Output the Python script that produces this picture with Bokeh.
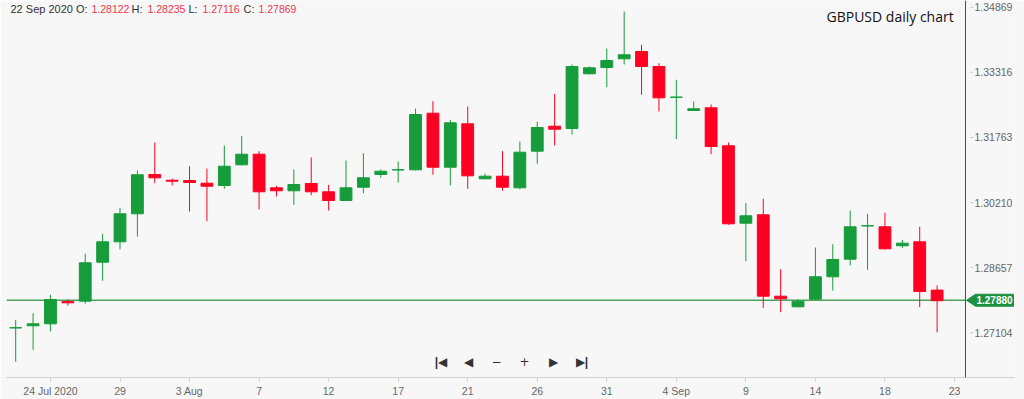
from bokeh.plotting import figure
from bokeh.models import ColumnDataSource, FixedTicker, Span, Label, Range1d
from bokeh.core.properties import value
from bokeh.embed import file_html
from bokeh.resources import INLINE

# ---------------- data ----------------
dates = ["2020-07-22", "2020-07-23", "2020-07-24", "2020-07-26", "2020-07-27", "2020-07-28",
         "2020-07-29", "2020-07-30", "2020-07-31", "2020-08-02", "2020-08-03", "2020-08-04",
         "2020-08-05", "2020-08-06", "2020-08-07", "2020-08-09", "2020-08-10", "2020-08-11",
         "2020-08-12", "2020-08-13", "2020-08-14", "2020-08-16", "2020-08-17", "2020-08-18",
         "2020-08-19", "2020-08-20", "2020-08-21", "2020-08-23", "2020-08-24", "2020-08-25",
         "2020-08-26", "2020-08-27", "2020-08-28", "2020-08-30", "2020-08-31", "2020-09-01",
         "2020-09-02", "2020-09-03", "2020-09-04", "2020-09-06", "2020-09-07", "2020-09-08",
         "2020-09-09", "2020-09-10", "2020-09-11", "2020-09-13", "2020-09-14", "2020-09-15",
         "2020-09-16", "2020-09-17", "2020-09-18", "2020-09-20", "2020-09-21", "2020-09-22"]

opens = [1.27220, 1.27271, 1.27319, 1.27851, 1.27858, 1.28788, 1.29274, 1.29942, 1.30879, 1.30743,
         1.30736, 1.30672, 1.30617, 1.31111, 1.31363, 1.30562, 1.30491, 1.30665, 1.30467, 1.30259,
         1.30576, 1.30879, 1.30988, 1.30991, 1.32341, 1.31053, 1.32088, 1.30777, 1.30839, 1.30562,
         1.31435, 1.32031, 1.31976, 1.33281, 1.33431, 1.33639, 1.33813, 1.33455, 1.32720, 1.32406,
         1.32470, 1.31564, 1.29718, 1.29918, 1.27977, 1.27724, 1.27905, 1.28440, 1.28859, 1.29652,
         1.29632, 1.29179, 1.29274, 1.28122]
highs = [1.27414, 1.27571, 1.28010, 1.27898, 1.28988, 1.29465, 1.30085, 1.30975, 1.31642, 1.30784,
         1.31077, 1.31022, 1.31571, 1.31802, 1.31435, 1.30610, 1.30999, 1.31285, 1.30634, 1.31213,
         1.31387, 1.30999, 1.31189, 1.32453, 1.32627, 1.32184, 1.32501, 1.30896, 1.31435, 1.31666,
         1.32136, 1.32804, 1.33503, 1.33455, 1.33884, 1.34767, 1.33973, 1.33534, 1.33138, 1.32620,
         1.32549, 1.31642, 1.30195, 1.30300, 1.28621, 1.27905, 1.29138, 1.29217, 1.30021, 1.29942,
         1.29966, 1.29322, 1.29632, 1.28235]
lows = [1.26412, 1.26699, 1.27135, 1.27755, 1.27796, 1.28344, 1.29098, 1.29401, 1.30672, 1.30617,
        1.29997, 1.29765, 1.30538, 1.31094, 1.30045, 1.30355, 1.30157, 1.30386, 1.30021, 1.30250,
        1.30433, 1.30801, 1.30689, 1.30975, 1.30872, 1.30617, 1.30538, 1.30767, 1.30491, 1.30529,
        1.31135, 1.31571, 1.31833, 1.33264, 1.32961, 1.33503, 1.32780, 1.32382, 1.31721, 1.32400,
        1.31363, 1.29680, 1.28811, 1.27700, 1.27595, 1.27707, 1.27874, 1.28113, 1.28709, 1.28607,
        1.29091, 1.29122, 1.27715, 1.27116]
closes = [1.27226, 1.27319, 1.27898, 1.27819, 1.28773, 1.29274, 1.29942, 1.30872, 1.30801, 1.30720,
          1.30689, 1.30600, 1.31077, 1.31363, 1.30467, 1.30491, 1.30641, 1.30467, 1.30259, 1.30562,
          1.30801, 1.30958, 1.30994, 1.32310, 1.31053, 1.32112, 1.30848, 1.30839, 1.30576, 1.31411,
          1.32000, 1.31960, 1.33455, 1.33424, 1.33598, 1.33734, 1.33455, 1.32708, 1.32726, 1.32446,
          1.31547, 1.29704, 1.29894, 1.27977, 1.27915, 1.27858, 1.28440, 1.28852, 1.29632, 1.29658,
          1.29107, 1.29241, 1.28089, 1.27869]

tick_dates = ["2020-07-24", "2020-07-29", "2020-08-03", "2020-08-07", "2020-08-12", "2020-08-17",
              "2020-08-21", "2020-08-26", "2020-08-31", "2020-09-04", "2020-09-09", "2020-09-14",
              "2020-09-18", "2020-09-23"]
tick_labels = ["24 Jul 2020", "29", "3 Aug", "7", "12", "17", "21", "26", "31", "4 Sep", "9", "14",
               "18", "23"]
price_ticks = [1.27104, 1.28657, 1.30210, 1.31763, 1.33316, 1.34869]
last_price = 1.27880
header_date = "22 Sep 2020"
chart_title = "GBPUSD daily chart"

# ---------------- layout / styling ----------------
W, H = 1024, 399
BORDER_L, BORDER_R, BORDER_B = 6, 10, 22
FRAME_W, FRAME_H = W - BORDER_L - BORDER_R, H - BORDER_B
X0, X1 = -0.529, 57.452          # visible slot range
Y0, Y1 = 1.26038, 1.35029        # visible price range
AXIS_X = 54.633                  # where the price scale starts
dx = (X1 - X0) / FRAME_W          # data units per pixel
dy = (Y1 - Y0) / FRAME_H

BG = "#f7f7f7"
GREEN = "#169c3a"
RED = "#ff0022"
TAG = "#1e9140"
AXFONT = "Liberation Sans"

x = list(range(len(dates)))
up = [c >= o for o, c in zip(opens, closes)]
src = ColumnDataSource(dict(
    x=x,
    high=highs, low=lows,
    top=[max(o, c) for o, c in zip(opens, closes)],
    bottom=[min(o, c) for o, c in zip(opens, closes)],
    color=[GREEN if u else RED for u in up],
))

p = figure(width=W, height=H,
           x_range=Range1d(X0, X1), y_range=Range1d(Y0, Y1),
           y_axis_location=None, output_backend="svg", toolbar_location=None,
           min_border_left=BORDER_L, min_border_top=0, min_border_right=BORDER_R,
           min_border_bottom=BORDER_B,
           background_fill_color=BG, border_fill_color=BG, outline_line_color=None)
p.grid.visible = False

# last-price line (up to the price scale)
p.segment(x0=[X0], x1=[AXIS_X], y0=[last_price], y1=[last_price],
          line_color="#4fa35f", line_width=1.5)

# candles
p.segment(x0="x", x1="x", y0="high", y1="low", line_color="color", line_width=1, source=src)
p.vbar(x="x", width=0.68, top="top", bottom="bottom", fill_color="color",
       line_color="color", line_width=1, source=src)

# price scale drawn at the right
p.add_layout(Span(location=AXIS_X, dimension="height", line_color="#4d4d4d", line_width=1))
n = len(price_ticks)
p.segment(x0=[AXIS_X + 5 * dx] * n, x1=[AXIS_X + 8 * dx] * n, y0=price_ticks, y1=price_ticks,
          line_color="#c8c8c8", line_width=1)
p.text(x=[AXIS_X + 9 * dx] * n, y=price_ticks, text=[f"{v:.5f}" for v in price_ticks],
       text_color="#666666", text_font=value(AXFONT), text_font_size="10.5px",
       text_align="left", text_baseline="middle")

# last-price tag
p.patch(x=[AXIS_X + 1 * dx, AXIS_X + 10 * dx, AXIS_X + 48 * dx, AXIS_X + 48 * dx, AXIS_X + 10 * dx],
        y=[last_price, last_price + 6 * dy, last_price + 6 * dy, last_price - 6 * dy, last_price - 6 * dy],
        fill_color=TAG, line_color=TAG)
p.text(x=[AXIS_X + 29 * dx], y=[last_price], text=[f"{last_price:.5f}"],
       text_color="white", text_font=value(AXFONT), text_font_size="10px",
       text_font_style="bold", text_align="center", text_baseline="middle")

# x axis
positions = [dates.index(d) if d in dates else len(dates) for d in tick_dates]
xa = p.xaxis[0]
xa.ticker = FixedTicker(ticks=positions)
xa.major_label_overrides = {pos: lab for pos, lab in zip(positions, tick_labels)}
xa.axis_line_color = "#cfcfcf"
xa.major_tick_line_color = "#cfcfcf"
xa.major_tick_out = 4
xa.major_tick_in = 0
xa.minor_tick_line_color = None
xa.major_label_text_color = "#666666"
xa.major_label_text_font = AXFONT
xa.major_label_text_font_size = "10.5px"
xa.major_label_standoff = 3

# header (OHLC of last bar); screen units: x from frame left, y from frame bottom
hdr = [(4, f"{header_date} O:", "#333333", "11px"), (85, f"{opens[-1]:.5f}", "#f0384f", "10.5px"),
       (125, "H:", "#333333", "11px"), (141, f"{highs[-1]:.5f}", "#f0384f", "10.5px"),
       (182, "L:", "#333333", "11px"), (196, f"{lows[-1]:.5f}", "#f0384f", "10.5px"),
       (237, "C:", "#333333", "11px"), (252, f"{closes[-1]:.5f}", "#f0384f", "10.5px")]
for hx, txt, col, fs in hdr:
    p.add_layout(Label(x=hx, y=FRAME_H - 8, x_units="screen", y_units="screen", text=txt,
                       text_color=col, text_font=AXFONT, text_font_size=fs,
                       text_align="left", text_baseline="middle"))

p.add_layout(Label(x=820, y=FRAME_H - 16, x_units="screen", y_units="screen", text=chart_title,
                   text_color="#111111", text_font="Open Sans", text_font_size="14px",
                   text_align="left", text_baseline="middle"))

# navigation buttons
nav = [(430, "|", "Liberation Sans", "bold"), (436, "\u25C0", "DejaVu Sans", "normal"),
       (462, "\u25C0", "DejaVu Sans", "normal"), (490, "\u2212", "DejaVu Sans", "normal"),
       (518, "+", "DejaVu Sans", "normal"), (547, "\u25B6", "DejaVu Sans", "normal"),
       (574, "\u25B6", "DejaVu Sans", "normal"), (580, "|", "Liberation Sans", "bold")]
for nx, sym, fnt, sty in nav:
    p.add_layout(Label(x=nx, y=16, x_units="screen", y_units="screen", text=sym,
                       text_color="#333333", text_font=fnt, text_font_size="12px",
                       text_font_style=sty, text_align="center", text_baseline="middle"))

open("out.html", "w").write(file_html(p, INLINE))
